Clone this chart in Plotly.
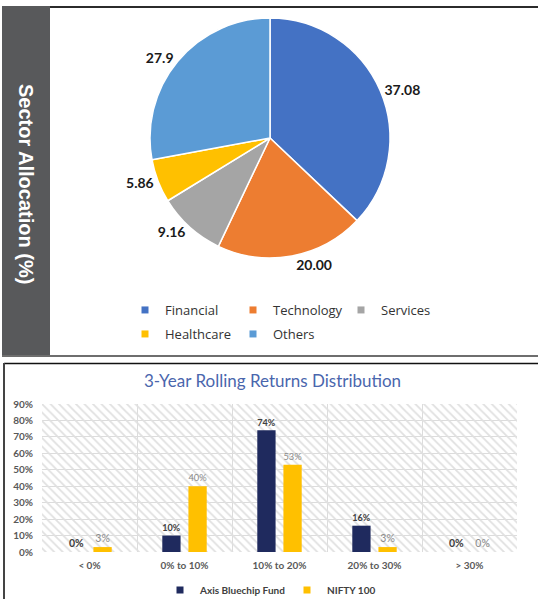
import plotly.graph_objects as go

W, H = 538, 599

# ---------------- data ----------------
sectors = ["Financial", "Technology", "Services", "Healthcare", "Others"]
sector_values = [37.08, 20.00, 9.16, 5.86, 27.9]
sector_labels = ["37.08", "20.00", "9.16", "5.86", "27.9"]
sector_colors = ["#4472C4", "#ED7D31", "#A5A5A5", "#FFC000", "#5B9BD5"]

return_buckets = ["< 0%", "0% to 10%", "10% to 20%", "20% to 30%", "> 30%"]
axis_bluechip = [0, 10, 74, 16, 0]
nifty_100 = [3, 40, 53, 3, 0]
y_tick_vals = [0, 10, 20, 30, 40, 50, 60, 70, 80, 90]
y_tick_text = ["0%", "10%", "20%", "30%", "40%", "50%", "60%", "70%", "80%", "90%"]

series_names = ["Axis Bluechip Fund", "NIFTY 100"]
series_colors = ["#1F2A5E", "#FFC000"]


def px(x):
    return x / W


def py(y):
    return 1 - y / H


fig = go.Figure()

# hatched background of the bar chart plot area (base axes x/y)
fig.add_trace(go.Bar(
    x=[0.5], y=[90], width=[1], base=0,
    xaxis="x", yaxis="y",
    marker=dict(color="#e0e0e0", line_width=0,
                pattern=dict(shape="\\", fgcolor="#e0e0e0", bgcolor="rgba(255,255,255,0)",
                             size=6, solidity=0.3, fillmode="replace")),
    showlegend=False, hoverinfo="skip",
))

# pie
fig.add_trace(go.Pie(
    labels=sectors, values=sector_values, text=sector_labels,
    textinfo="text", textposition="outside",
    textfont=dict(family="Lato", size=14, color="#1a1a1a", weight="bold"),
    marker=dict(colors=sector_colors, line=dict(color="white", width=1.5)),
    sort=False, direction="clockwise", rotation=0,
    domain=dict(x=[px(150), px(390)], y=[py(258), py(18)]),
    showlegend=False, hoverinfo="skip",
))

# pie legend entries (two rows)
for i, (s, c) in enumerate(zip(sectors, sector_colors)):
    fig.add_trace(go.Scatter(
        x=[None], y=[None], mode="markers", name=s,
        marker=dict(symbol="square", size=7, color=c),
        xaxis="x2", yaxis="y2",
        legend="legend3" if i < 3 else "legend4",
        hoverinfo="skip",
    ))

# bars
fig.add_trace(go.Bar(
    x=return_buckets, y=axis_bluechip, name=series_names[0],
    marker=dict(color=series_colors[0], line_width=0),
    text=[f"{v}%" for v in axis_bluechip], textposition="outside",
    textfont=dict(family="Lato", size=10.5, color="#404040", weight="bold"),
    cliponaxis=False, xaxis="x2", yaxis="y2", showlegend=False, hoverinfo="skip",
))
fig.add_trace(go.Bar(
    x=return_buckets, y=nifty_100, name=series_names[1],
    marker=dict(color=series_colors[1], line_width=0),
    text=[f"{v}%" for v in nifty_100], textposition="outside",
    textfont=dict(family="Lato", size=10.5, color="#8a8a8a"),
    cliponaxis=False, xaxis="x2", yaxis="y2", showlegend=False, hoverinfo="skip",
))

# bar legend entries (small squares as in the reference)
for s, c in zip(series_names, series_colors):
    fig.add_trace(go.Scatter(
        x=[None], y=[None], mode="markers", name=s,
        marker=dict(symbol="square", size=7, color=c),
        xaxis="x2", yaxis="y2", legend="legend2", hoverinfo="skip",
    ))

xdom = [px(42), px(517)]
ydom = [py(552), py(404)]

fig.update_layout(
    width=W, height=H, autosize=False,
    margin=dict(l=0, r=0, t=0, b=0, autoexpand=False),
    paper_bgcolor="white", plot_bgcolor="white",
    font=dict(family="Lato", color="#404040"),
    barmode="group", bargap=0.45, bargroupgap=0.3,
    xaxis=dict(domain=xdom, range=[0, 1], visible=False, fixedrange=True),
    yaxis=dict(domain=ydom, range=[0, 90], visible=False, fixedrange=True),
    xaxis2=dict(overlaying="x", side="bottom", type="category", tickson="boundaries",
                showgrid=True, gridcolor="#dcdcdc", gridwidth=1, ticks="", showline=False,
                tickfont=dict(family="Lato", size=10, color="#595959", weight="bold"),
                ticklabelstandoff=6, fixedrange=True),
    yaxis2=dict(overlaying="y", side="left", range=[0, 90], tickvals=y_tick_vals,
                ticktext=y_tick_text, showgrid=True, gridcolor="#dcdcdc", gridwidth=1,
                zeroline=False, showline=False, ticks="",
                tickfont=dict(family="Lato", size=10, color="#595959", weight="bold"),
                ticklabelstandoff=8, fixedrange=True),
    legend2=dict(orientation="h", x=px(160), y=py(590), xanchor="left", yanchor="middle",
                 font=dict(family="Lato", size=10, color="#404040", weight="bold"),
                 entrywidth=82,
                 bgcolor="rgba(0,0,0,0)", itemclick=False, itemdoubleclick=False),
    legend3=dict(orientation="h", x=px(125), y=py(310), xanchor="left", yanchor="middle",
                 font=dict(family="Open Sans", size=13, color="#333333"),
                 entrywidth=63, bgcolor="rgba(0,0,0,0)", itemclick=False, itemdoubleclick=False),
    legend4=dict(orientation="h", x=px(125), y=py(334), xanchor="left", yanchor="middle",
                 font=dict(family="Open Sans", size=13, color="#333333"),
                 entrywidth=63, bgcolor="rgba(0,0,0,0)", itemclick=False, itemdoubleclick=False),
    showlegend=True,
)

# frames / panel decoration
shapes = [
    dict(type="rect", x0=px(2), x1=px(50), y0=py(355), y1=py(6),
         fillcolor="#58595b", line_width=0),
    dict(type="line", x0=px(50), x1=px(538), y0=py(7), y1=py(7),
         line=dict(color="#2b2b2b", width=2)),
    dict(type="line", x0=px(2), x1=px(538), y0=py(356), y1=py(356),
         line=dict(color="#6e6e6e", width=2)),
    dict(type="line", x0=px(4), x1=px(538), y0=py(363.5), y1=py(363.5),
         line=dict(color="#111111", width=1.5)),
    dict(type="line", x0=px(4), x1=px(4), y0=py(363), y1=py(599),
         line=dict(color="#444444", width=2)),
]
for s in shapes:
    s.update(xref="paper", yref="paper", layer="above")
    fig.add_shape(**s)

fig.add_annotation(
    text="Sector Allocation (%)", x=px(26), y=py(184), xref="paper", yref="paper",
    xanchor="center", yanchor="middle",
    textangle=90, showarrow=False,
    font=dict(family="Liberation Sans", size=20, color="white", weight="bold"),
)
fig.add_annotation(
    text="3-Year Rolling Returns Distribution", x=px(272), y=py(380),
    xref="paper", yref="paper", xanchor="center", yanchor="middle", showarrow=False,
    font=dict(family="Lato", size=17, color="#4a66ad"),
)

fig.write_html(
    "out.html",
    config={"displayModeBar": False},
    post_script="document.body.style.margin='0px';document.body.style.overflow='hidden';",
)
